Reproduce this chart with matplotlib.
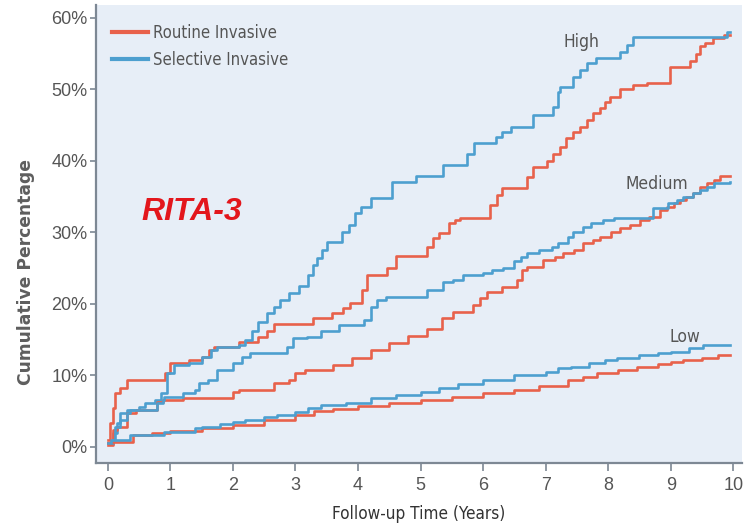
import matplotlib
matplotlib.use("Agg")
import matplotlib.pyplot as plt
from matplotlib import font_manager
from matplotlib.font_manager import FontProperties
from matplotlib.ticker import FuncFormatter

# ---- data: cumulative event percentage by follow-up year ----
high_routine_t = [0, 0.03, 0.08, 0.12, 0.2, 0.3, 0.91, 1.0, 1.3, 1.5, 1.62, 1.7, 2.1, 2.4, 2.55, 2.65,
                  3.28, 3.58, 3.76, 3.87, 4.06, 4.15, 4.47, 4.6, 5.1, 5.2, 5.3, 5.45, 5.55, 5.63, 6.11,
                  6.22, 6.3, 6.7, 6.8, 7.02, 7.12, 7.23, 7.33, 7.44, 7.55, 7.66, 7.76, 7.87, 7.95, 8.03,
                  8.19, 8.4, 8.62, 8.99, 9.31, 9.4, 9.47, 9.55, 9.68, 9.85, 9.95]
high_routine_pct = [1.0, 3.4, 5.5, 7.5, 8.3, 9.4, 10.3, 11.7, 12.2, 12.6, 13.6, 14.0, 14.7, 15.4, 16.2, 17.2,
                    18.0, 18.7, 19.4, 20.1, 22.0, 24.0, 25.0, 26.7, 28.0, 29.2, 29.9, 31.3, 31.7, 32.0, 33.8,
                    35.2, 36.2, 37.8, 39.2, 40.0, 41.0, 42.0, 43.2, 44.0, 44.8, 45.7, 46.7, 47.4, 48.3, 49.0,
                    50.0, 50.6, 50.9, 53.1, 54.0, 55.0, 56.0, 56.5, 57.2, 57.6, 57.6]

high_selective_t = [0, 0.08, 0.15, 0.2, 0.3, 0.5, 0.6, 0.75, 0.85, 0.95, 1.05, 1.3, 1.5, 1.65, 1.75, 2.1,
                    2.2, 2.3, 2.4, 2.55, 2.65, 2.75, 2.9, 3.05, 3.2, 3.28, 3.35, 3.42, 3.5, 3.75, 3.85,
                    3.95, 4.05, 4.2, 4.55, 4.92, 5.36, 5.75, 5.85, 6.2, 6.3, 6.45, 6.8, 7.12, 7.2, 7.23,
                    7.44, 7.55, 7.66, 7.8, 8.19, 8.3, 8.4, 9.9, 9.95]
high_selective_pct = [0.5, 2.0, 3.4, 4.8, 5.2, 5.6, 6.1, 6.6, 7.5, 10.3, 11.5, 11.8, 12.6, 13.6, 14.0, 14.3,
                      15.0, 16.2, 17.5, 18.7, 19.6, 20.5, 21.5, 22.5, 24.0, 25.5, 26.4, 27.5, 28.7, 30.0, 31.0,
                      32.7, 33.5, 34.8, 37.0, 37.9, 39.4, 41.0, 42.5, 43.4, 44.0, 44.8, 46.4, 47.5, 49.6, 50.3,
                      51.7, 52.7, 53.7, 54.4, 55.2, 56.2, 57.3, 58.0, 58.0]

medium_routine_t = [0, 0.08, 0.15, 0.3, 0.45, 0.78, 0.88, 1.2, 2.0, 2.1, 2.65, 2.9, 3.0, 3.15, 3.6, 3.9,
                    4.2, 4.5, 4.8, 5.1, 5.35, 5.52, 5.84, 5.95, 6.06, 6.3, 6.54, 6.62, 6.7, 6.96, 7.15,
                    7.28, 7.45, 7.6, 7.75, 7.87, 8.05, 8.19, 8.35, 8.51, 8.65, 8.83, 8.94, 9.05, 9.15,
                    9.25, 9.36, 9.47, 9.58, 9.7, 9.79, 9.95]
medium_routine_pct = [0.3, 2.4, 2.8, 4.8, 5.2, 6.3, 6.6, 6.8, 7.7, 8.0, 9.0, 9.4, 10.3, 10.8, 11.5, 12.5,
                      13.5, 14.5, 15.5, 16.5, 18.0, 18.9, 19.9, 20.8, 21.7, 22.4, 23.4, 24.8, 25.2, 26.1, 26.6,
                      27.1, 27.5, 28.5, 29.0, 29.4, 30.0, 30.6, 31.0, 31.7, 32.2, 33.1, 33.6, 34.1, 34.5,
                      35.0, 35.5, 36.4, 36.9, 37.3, 37.9, 37.9]

medium_selective_t = [0, 0.08, 0.12, 0.2, 0.3, 0.35, 0.78, 0.88, 0.9, 1.2, 1.4, 1.45, 1.6, 1.74, 2.0,
                      2.15, 2.27, 2.86, 2.96, 3.18, 3.4, 3.7, 4.1, 4.2, 4.3, 4.45, 5.1, 5.36, 5.52, 5.68,
                      6.0, 6.15, 6.32, 6.5, 6.6, 6.7, 6.9, 7.1, 7.2, 7.35, 7.44, 7.6, 7.72, 7.92, 8.1,
                      8.72, 8.95, 9.1, 9.2, 9.35, 9.47, 9.58, 9.7, 9.95]
medium_selective_pct = [0.5, 1.0, 2.8, 3.8, 4.8, 5.2, 6.1, 6.6, 7.0, 7.5, 8.0, 9.0, 9.4, 10.8, 11.7,
                        12.6, 13.1, 14.0, 15.2, 15.4, 16.2, 17.0, 17.8, 19.6, 20.5, 21.0, 22.0, 23.0, 23.4, 24.0,
                        24.3, 24.8, 25.0, 26.0, 26.6, 27.1, 27.5, 28.0, 28.5, 29.4, 30.0, 30.8, 31.3, 31.7, 32.0,
                        33.4, 34.1, 34.5, 35.0, 35.5, 36.0, 36.4, 36.9, 37.0]

low_routine_t = [0, 0.05, 0.4, 0.7, 1.0, 1.5, 2.0, 2.5, 3.0, 3.3, 3.6, 4.0, 4.5, 5.0, 5.5, 6.0, 6.5,
                 6.9, 7.35, 7.6, 7.82, 8.15, 8.46, 8.8, 9.0, 9.2, 9.5, 9.75, 9.95]
low_routine_pct = [0.5, 0.7, 1.7, 2.0, 2.3, 2.7, 3.1, 3.8, 4.5, 5.0, 5.3, 5.7, 6.2, 6.6, 7.0, 7.5, 8.0,
                   8.5, 9.4, 9.8, 10.3, 10.8, 11.2, 11.6, 11.9, 12.2, 12.5, 12.9, 12.9]

low_selective_t = [0, 0.05, 0.35, 0.9, 1.4, 1.5, 1.8, 2.0, 2.2, 2.5, 2.7, 3.0, 3.2, 3.4, 3.8, 4.2, 4.6,
                   5.0, 5.3, 5.6, 6.0, 6.5, 7.0, 7.2, 7.4, 7.7, 7.95, 8.14, 8.5, 8.8, 9.0, 9.3, 9.52, 9.95]
low_selective_pct = [0.5, 1.0, 1.7, 2.1, 2.6, 2.8, 3.2, 3.5, 3.8, 4.2, 4.5, 4.9, 5.4, 5.9, 6.2, 6.8, 7.2,
                     7.7, 8.2, 8.8, 9.4, 10.0, 10.5, 11.0, 11.2, 11.7, 12.2, 12.4, 12.8, 13.1, 13.3, 13.8,
                     14.3, 14.3]

x_ticks = list(range(0, 11))
y_ticks = [0, 10, 20, 30, 40, 50, 60]
series_names = ["Routine Invasive", "Selective Invasive"]
risk_labels = ["High", "Medium", "Low"]
risk_label_pos = [(7.58, 56.6), (8.78, 36.8), (9.22, 15.4)]

# ---- style ----
RED = "#e8614b"
BLUE = "#4d9fcf"
BG = "#e7eef7"
AXIS = "#7d8894"
TXT = "#555555"


def condensed_font(size, weight="normal"):
    """Return a narrow sans-serif FontProperties if one is installed."""
    wanted_w = {"normal": (300, 400, 500), "bold": (600, 700)}[weight]
    best = None
    for f in font_manager.fontManager.ttflist:
        if f.style != "normal":
            continue
        w = f.weight if isinstance(f.weight, int) else 400
        if w not in wanted_w:
            continue
        fname = f.fname.lower()
        if f.stretch in ("condensed", "semi-condensed") or "condensed" in fname or "narrow" in fname:
            score = 0 if "liberation" in fname else (1 if "dejavu" in fname else 2)
            if best is None or score < best[0]:
                best = (score, f.fname)
    if best is not None:
        return FontProperties(fname=best[1], size=size), True
    return FontProperties(family="Liberation Sans", weight=weight, size=size * 0.86), False


regular = "Liberation Sans"

fig = plt.figure(figsize=(7.44, 5.28), dpi=100)
ax = fig.add_axes([96 / 744, 1 - 463 / 528, 646 / 744, 458 / 528])
ax.set_facecolor(BG)

lw = 1.9
ax.step(high_routine_t, high_routine_pct, where="post", color=RED, lw=lw, label=series_names[0])
ax.step(high_selective_t, high_selective_pct, where="post", color=BLUE, lw=lw, label=series_names[1])
ax.step(medium_routine_t, medium_routine_pct, where="post", color=RED, lw=lw)
ax.step(medium_selective_t, medium_selective_pct, where="post", color=BLUE, lw=lw)
ax.step(low_routine_t, low_routine_pct, where="post", color=RED, lw=lw)
ax.step(low_selective_t, low_selective_pct, where="post", color=BLUE, lw=lw)

ax.set_xlim(-0.19, 10.14)
ax.set_ylim(-2.24, 61.8)
ax.set_xticks(x_ticks)
ax.set_yticks(y_ticks)
ax.yaxis.set_major_formatter(FuncFormatter(lambda v, _: f"{v:.0f}%"))

for side in ("top", "right"):
    ax.spines[side].set_visible(False)
for side in ("left", "bottom"):
    ax.spines[side].set_color(AXIS)
    ax.spines[side].set_linewidth(1.6)

ax.tick_params(axis="y", direction="out", length=4, width=1.2, color=AXIS, pad=2,
               labelsize=13, labelcolor=TXT)
ax.tick_params(axis="x", direction="out", length=6, width=1.2, color=AXIS, pad=4,
               labelsize=13, labelcolor=TXT)
for lab in ax.get_xticklabels() + ax.get_yticklabels():
    lab.set_family(regular)

xlab_font, _ = condensed_font(12.3)
ax.set_xlabel("Follow-up Time (Years)", fontproperties=xlab_font, color="#333333", labelpad=8)
ax.set_ylabel("Cumulative Percentage", family="DejaVu Sans", fontsize=12.3,
              fontweight="bold", color="#5e5e5e")
ax.yaxis.set_label_coords(-0.094, 0.417)

label_font, _ = condensed_font(12.5)
for name, (tx, ty) in zip(risk_labels, risk_label_pos):
    ax.text(tx, ty, name, fontproperties=label_font, color=TXT, ha="center", va="center")

ax.text(1.34, 32.9, "RITA-3", family=regular, fontsize=23, fontweight="bold",
        fontstyle="italic", color="#e3161c", ha="center", va="center")

legend_font, _ = condensed_font(12)
leg = ax.legend(loc="upper left", bbox_to_anchor=(0.025, 0.958), frameon=False,
                handlelength=2.15, handletextpad=0.3, labelspacing=0.5,
                borderaxespad=0, borderpad=0, prop=legend_font)
for t in leg.get_texts():
    t.set_color(TXT)
for h in leg.get_lines():
    h.set_linewidth(3)

fig.savefig("out.png", dpi=100, facecolor="white")
